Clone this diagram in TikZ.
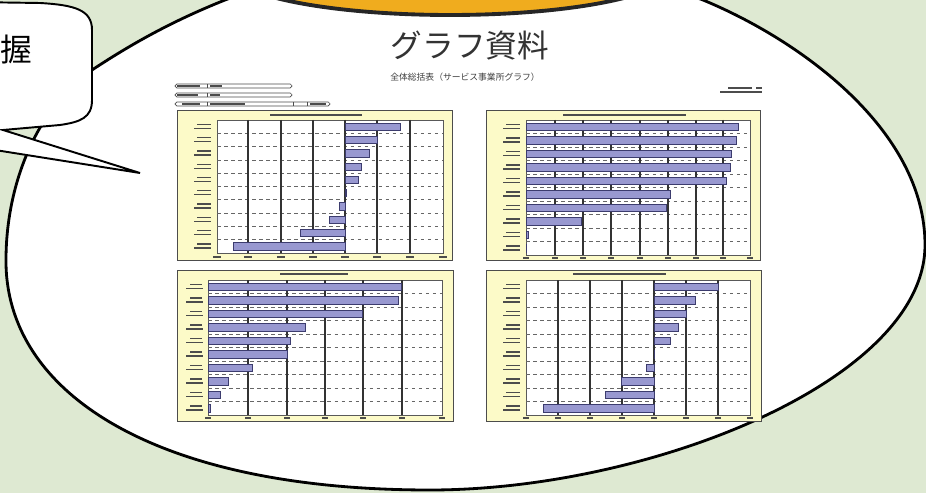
\documentclass[tikz,border=0pt]{standalone}
\usepackage{fontspec}
\newfontfamily\jpfont{Noto Sans CJK JP}
\definecolor{bggreen}{RGB}{222,233,210}
\definecolor{capsorange}{RGB}{240,172,30}
\definecolor{panelyellow}{RGB}{252,250,200}
\definecolor{barblue}{RGB}{152,152,208}
\definecolor{bardark}{RGB}{60,60,110}
\tikzset{
  panel/.style={draw=gray!60!black, line width=0.5pt, fill=panelyellow},
  plotbox/.style={draw=gray!70!black, line width=0.4pt, fill=white},
  gridline/.style={draw=black!80, line width=0.6pt},
  dashline/.style={draw=black!60, dash pattern=on 2pt off 2pt, line width=0.4pt},
  bar/.style={draw=bardark, line width=0.4pt, fill=barblue},
  scribble/.style={draw=black!70, line width=0.9pt},
  infobox/.style={draw=black!70, line width=0.4pt, rounded corners=1pt},
}
\begin{document}
\begin{tikzpicture}[x=0.02cm, y=-0.02cm]
  \useasboundingbox (0,0) rectangle (926,493);
  \clip (0,0) rectangle (926,493);
  \fill[bggreen] (0,0) rectangle (926,493);

  \draw[fill=white, line width=1.6pt] (92,70) .. controls (40,105) and (6,180) .. (6,260)
    .. controls (5,390) and (150,490) .. (430,490)
    .. controls (650,490) and (925,380) .. (925,245)
    .. controls (925,130) and (800,40) .. (703,0)
    .. controls (600,-40) and (330,-40) .. (225,0)
    .. controls (170,22) and (130,45) .. (92,70) -- cycle;

  \draw[fill=capsorange, draw=black!85, line width=2.2pt] (450,-30) ellipse [x radius=222, y radius=45];

  \draw[fill=white, line width=1.1pt] (-30,2) -- (40,3) .. controls (75,5) and (92,10) .. (92,30)
    -- (92,100) .. controls (92,118) and (80,122) .. (60,125) -- (3,130) -- (140,173) -- (-5,150) -- cycle;
  \node[font=\jpfont\fontsize{18}{18}\selectfont] (grasp) at (16,50) {握};

  \node[font=\jpfont\fontsize{18}{18}\selectfont, text=black!80] (title) at (470,46) {グラフ資料};
  \node[font=\jpfont\fontsize{5}{5}\selectfont, text=black!75] (subtitle) at (465,77) {全体総括表（サービス事業所グラフ）};

  \draw[infobox] (175,84) rectangle (292,88);
  \draw[infobox] (175,93) rectangle (292,97);
  \draw[infobox] (175,102) rectangle (330,106);
  \draw[black!70, line width=0.4pt] (207,84) -- (207,88) (207,93) -- (207,97) (207,102) -- (207,106) (293,102) -- (293,106) (307,102) -- (307,106);
  \draw[scribble, line width=0.7pt] (177,86) -- (200,86) (210,86) -- (222,86) (177,95) -- (198,95) (210,95) -- (220,95)
    (182,104) -- (200,104) (210,104) -- (245,104) (310,104) -- (326,104);
  \draw[scribble, line width=0.7pt] (728,88) -- (752,88) (756,88) -- (762,88) (720,92) -- (762,92);

  % chart 1
  \draw[panel] (177,110) rectangle (452,260);
  \draw[scribble] (270,115) -- (362,115);
  \draw[plotbox] (217,120) rectangle (443,253);
  \foreach \k in {1,...,9} \draw[dashline] (217,120+13.3*\k) -- (443,120+13.3*\k);
  \foreach \x in {248,281,313,345,377,410} \draw[gridline] (\x,120) -- (\x,253);
  \foreach \v [count=\i] in {1.7,1.0,0.74,0.5,0.4,0.03,-0.16,-0.5,-1.39,-3.47}
    \draw[bar] (345,120+13.3*\i-10.3) rectangle (345+32.3*\v,120+13.3*\i-3);
  \foreach \i in {1,...,10} \draw[scribble, line width=0.7pt] (197,120+13.3*\i-9) -- (211,120+13.3*\i-9) (194,120+13.3*\i-5) -- (211,120+13.3*\i-5);
  \foreach \x in {217,248,281,313,345,377,410,443} \draw[scribble, line width=0.6pt] (\x-4,257) -- (\x+4,257);

  % chart 2
  \draw[panel] (486,110) rectangle (760,260);
  \draw[scribble] (563,115) -- (686,115);
  \draw[plotbox] (526,120) rectangle (750,255);
  \foreach \k in {1,...,9} \draw[dashline] (526,120+13.5*\k) -- (750,120+13.5*\k);
  \foreach \x in {555,583,611,640,668,696,723} \draw[gridline] (\x,120) -- (\x,255);
  \foreach \v [count=\i] in {7.57,7.5,7.32,7.29,7.14,5.14,5.0,1.96,0.07,0.02}
    \draw[bar] (526,120+13.5*\i-10.5) rectangle (526+28*\v,120+13.5*\i-3);
  \foreach \i in {1,...,10} \draw[scribble, line width=0.7pt] (506,120+13.5*\i-9) -- (520,120+13.5*\i-9) (503,120+13.5*\i-5) -- (520,120+13.5*\i-5);
  \foreach \x in {526,555,583,611,640,668,696,723,750} \draw[scribble, line width=0.6pt] (\x-3,258) -- (\x+3,258);

  % chart 3
  \draw[panel] (177,270) rectangle (453,421);
  \draw[scribble] (280,274) -- (348,274);
  \draw[plotbox] (208,280) rectangle (442,415);
  \foreach \k in {1,...,9} \draw[dashline] (208,280+13.5*\k) -- (442,280+13.5*\k);
  \foreach \x in {248,287,325,363,402} \draw[gridline] (\x,280) -- (\x,415);
  \foreach \v [count=\i] in {4.97,4.87,3.97,2.49,2.1,2.03,1.13,0.51,0.31,0.05}
    \draw[bar] (208,280+13.5*\i-10.5) rectangle (208+39*\v,280+13.5*\i-3);
  \foreach \i in {1,...,10} \draw[scribble, line width=0.7pt] (190,280+13.5*\i-9) -- (202,280+13.5*\i-9) (186,280+13.5*\i-5) -- (203,280+13.5*\i-5);
  \foreach \x in {208,248,287,325,363,402,442} \draw[scribble, line width=0.6pt] (\x-3,418) -- (\x+3,418);

  % chart 4
  \draw[panel] (486,270) rectangle (761,421);
  \draw[scribble] (573,274) -- (666,274);
  \draw[plotbox] (526,280) rectangle (750,415);
  \foreach \k in {1,...,9} \draw[dashline] (526,280+13.5*\k) -- (750,280+13.5*\k);
  \foreach \x in {558,590,622,654,686,718} \draw[gridline] (\x,280) -- (\x,415);
  \foreach \v [count=\i] in {2.0,1.28,1.0,0.75,0.5,0.02,-0.25,-1.03,-1.53,-3.47}
    \draw[bar] (654,280+13.5*\i-10.5) rectangle (654+32*\v,280+13.5*\i-3);
  \foreach \i in {1,...,10} \draw[scribble, line width=0.7pt] (506,280+13.5*\i-9) -- (520,280+13.5*\i-9) (503,280+13.5*\i-5) -- (520,280+13.5*\i-5);
  \foreach \x in {526,558,590,622,654,686,718,750} \draw[scribble, line width=0.6pt] (\x-3,418) -- (\x+3,418);
\end{tikzpicture}
\end{document}
